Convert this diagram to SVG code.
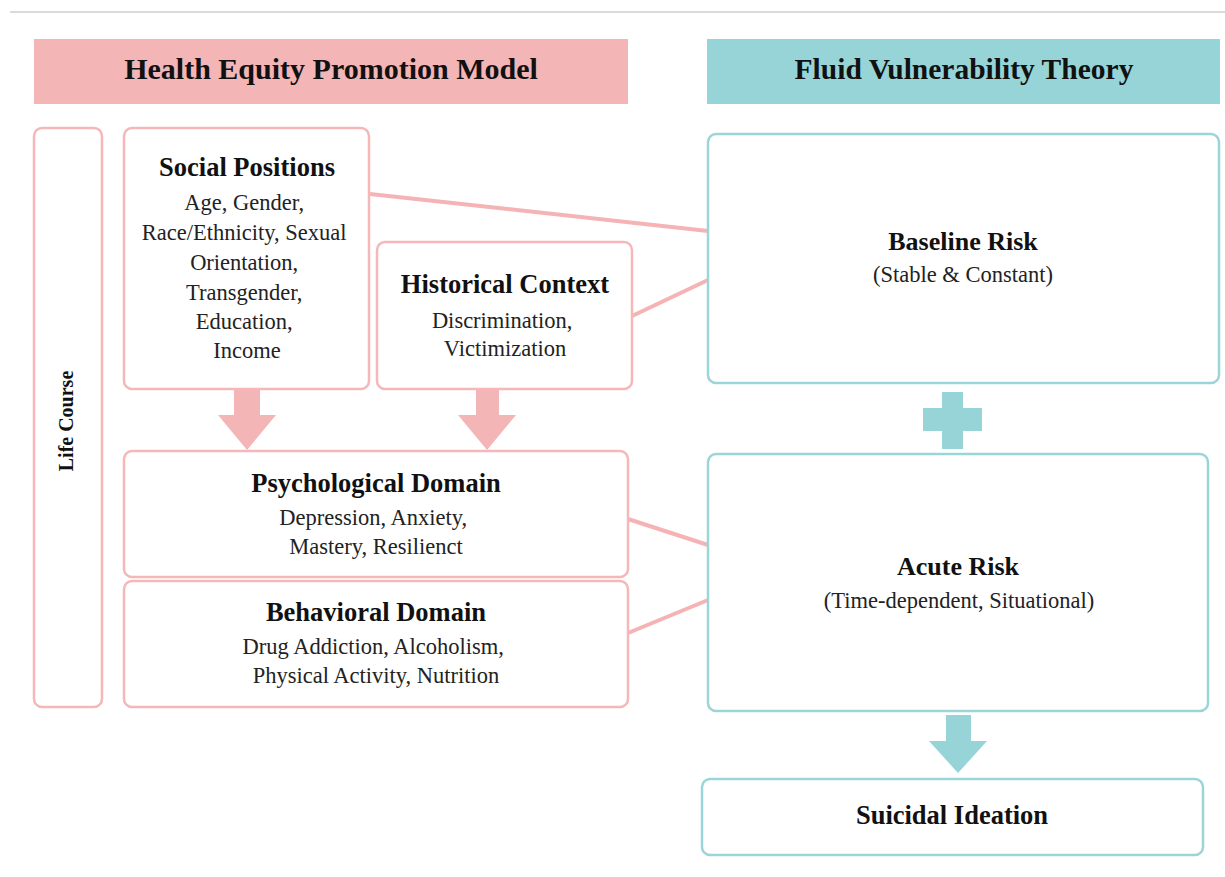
<svg xmlns="http://www.w3.org/2000/svg" width="1225" height="877" viewBox="0 0 1225 877">
  <style>
    .pinkbox { fill: #ffffff; stroke: #f5b7b8; stroke-width: 2.5; }
    .tealbox { fill: #ffffff; stroke: #9ad5d8; stroke-width: 2.5; }
    .title { font-family: "Liberation Serif", "Times New Roman", serif; font-weight: bold; fill: #111111; text-anchor: middle; }
    .body { font-family: "Liberation Serif", "Times New Roman", serif; fill: #222222; text-anchor: middle; font-size: 22.5px; }
    .link { stroke: #f5b3b5; stroke-width: 4; fill: none; }
    .pinkfill { fill: #f4b5b6; }
    .tealfill { fill: #97d4d7; }
  </style>

  <!-- page rule -->
  <line x1="10" y1="12" x2="1225" y2="12" stroke="#cfcfcf" stroke-width="1.5"/>

  <!-- column headers -->
  <g id="header-hepm">
    <rect x="34" y="39" width="594" height="65" class="pinkfill"/>
    <text x="331" y="79" class="title" font-size="30">Health Equity Promotion Model</text>
  </g>
  <g id="header-fvt">
    <rect x="707" y="39" width="513" height="65" class="tealfill"/>
    <text x="964" y="79" class="title" font-size="29.5">Fluid Vulnerability Theory</text>
  </g>

  <!-- connectors -->
  <g id="connectors">
    <line x1="370" y1="194" x2="708" y2="231" class="link"/>
    <line x1="632" y1="316" x2="708" y2="280" class="link"/>
    <line x1="628" y1="519" x2="708" y2="545" class="link"/>
    <line x1="628" y1="633" x2="708" y2="600" class="link"/>
    <!-- block arrows -->
    <polygon points="234,390 260,390 260,415 276,415 247,450 218,415 234,415" class="pinkfill"/>
    <polygon points="476,390 499,390 499,415 516,415 487,450 458,415 476,415" class="pinkfill"/>
    <polygon points="946,715 971,715 971,741 987,741 958,773 929,741 946,741" class="tealfill"/>
  </g>

  <!-- left model -->
  <g id="life-course">
    <rect x="34" y="128" width="68" height="579" rx="8" class="pinkbox"/>
    <text x="0" y="0" class="title" font-size="20" transform="translate(73,421) rotate(-90)">Life Course</text>
  </g>

  <g id="social-positions">
    <rect x="124" y="128" width="245" height="261" rx="8" class="pinkbox"/>
    <text x="247" y="176" class="title" font-size="26.5">Social Positions</text>
    <text class="body">
      <tspan x="247" y="210">Age, Gender,</tspan>
      <tspan x="247" y="240">Race/Ethnicity, Sexual</tspan>
      <tspan x="247" y="270">Orientation,</tspan>
      <tspan x="247" y="300">Transgender,</tspan>
      <tspan x="247" y="329">Education,</tspan>
      <tspan x="247" y="358">Income</tspan>
    </text>
  </g>

  <g id="historical-context">
    <rect x="377" y="242" width="255" height="147" rx="8" class="pinkbox"/>
    <text x="505" y="293" class="title" font-size="26.5">Historical Context</text>
    <text class="body">
      <tspan x="505" y="328">Discrimination,</tspan>
      <tspan x="505" y="356">Victimization</tspan>
    </text>
  </g>

  <g id="psychological-domain">
    <rect x="124" y="451" width="504" height="126" rx="8" class="pinkbox"/>
    <text x="376" y="492" class="title" font-size="26.5">Psychological Domain</text>
    <text class="body">
      <tspan x="376" y="525">Depression, Anxiety,</tspan>
      <tspan x="376" y="554">Mastery, Resilienct</tspan>
    </text>
  </g>

  <g id="behavioral-domain">
    <rect x="124" y="581" width="504" height="126" rx="8" class="pinkbox"/>
    <text x="376" y="621" class="title" font-size="26.5">Behavioral Domain</text>
    <text class="body">
      <tspan x="376" y="654">Drug Addiction, Alcoholism,</tspan>
      <tspan x="376" y="683">Physical Activity, Nutrition</tspan>
    </text>
  </g>

  <!-- right model -->
  <g id="baseline-risk">
    <rect x="708" y="134" width="511" height="249" rx="8" class="tealbox"/>
    <text x="963" y="250" class="title" font-size="26">Baseline Risk</text>
    <text x="963" y="282" class="body" font-size="21.5">(Stable &amp; Constant)</text>
  </g>

  <g id="plus">
    <rect x="942" y="392" width="21" height="57" class="tealfill"/>
    <rect x="923" y="408" width="59" height="23" class="tealfill"/>
  </g>

  <g id="acute-risk">
    <rect x="708" y="454" width="500" height="257" rx="8" class="tealbox"/>
    <text x="958" y="575" class="title" font-size="26">Acute Risk</text>
    <text x="959" y="608" class="body" font-size="21.8">(Time-dependent, Situational)</text>
  </g>

  <g id="suicidal-ideation">
    <rect x="702" y="779" width="501" height="76" rx="8" class="tealbox"/>
    <text x="952" y="824" class="title" font-size="26.5">Suicidal Ideation</text>
  </g>
</svg>
